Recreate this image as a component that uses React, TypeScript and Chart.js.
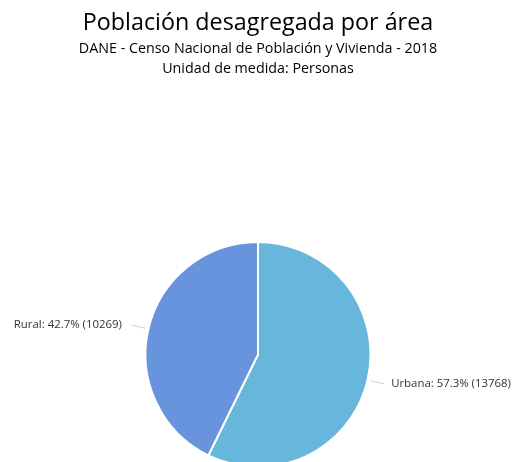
import React, { useEffect, useRef } from "react";
import { Chart, registerables } from "chart.js";

Chart.register(...registerables);

const categories: string[] = ["Urbana", "Rural"];
const values: number[] = [13768, 10269];
const colors: string[] = ["#67b7dc", "#6794dc"];
const titleText = "Población desagregada por área";
const subtitleLines: string[] = [
  "DANE - Censo Nacional de Población y Vivienda - 2018",
  "Unidad de medida: Personas",
];

const FONT = "'Open Sans', 'Noto Sans', sans-serif";

const sliceLabels = {
  id: "sliceLabels",
  afterDatasetsDraw(chart: any) {
    const ctx = chart.ctx as CanvasRenderingContext2D;
    const meta = chart.getDatasetMeta(0);
    const total = values.reduce((a, b) => a + b, 0);
    ctx.save();
    meta.data.forEach((arc: any, i: number) => {
      const { x, y, startAngle, endAngle, outerRadius } = arc.getProps(
        ["x", "y", "startAngle", "endAngle", "outerRadius"],
        true
      );
      const mid = (startAngle + endAngle) / 2;
      const c = Math.cos(mid);
      const s = Math.sin(mid);
      const x1 = x + c * (outerRadius + 3);
      const y1 = y + s * (outerRadius + 3);
      const x2 = x + c * (outerRadius + 17);
      const y2 = y + s * (outerRadius + 17);
      ctx.strokeStyle = "#cfcfcf";
      ctx.lineWidth = 1;
      ctx.beginPath();
      ctx.moveTo(x1, y1);
      ctx.lineTo(x2, y2);
      ctx.stroke();
      const right = c >= 0;
      ctx.font = `11.4px ${FONT}`;
      ctx.fillStyle = "#333333";
      ctx.textAlign = right ? "left" : "right";
      ctx.textBaseline = "middle";
      const pct = ((values[i] / total) * 100).toFixed(1);
      ctx.fillText(
        `${categories[i]}: ${pct}% (${values[i]})`,
        x2 + (right ? 7 : -10),
        y2
      );
    });
    ctx.restore();
  },
};

export default function App() {
  const canvasRef = useRef<HTMLCanvasElement | null>(null);

  useEffect(() => {
    if (!canvasRef.current) return;
    const chart = new Chart(canvasRef.current, {
      type: "pie",
      data: {
        labels: categories,
        datasets: [
          {
            data: values,
            backgroundColor: colors,
            borderColor: "#ffffff",
            borderWidth: 2,
            hoverOffset: 0,
          },
        ],
      },
      options: {
        responsive: false,
        animation: false,
        layout: { padding: { left: 4, right: 0, top: 0, bottom: 0 } },
        plugins: {
          legend: { display: false },
          tooltip: { enabled: false },
          title: {
            display: true,
            text: titleText,
            color: "#000000",
            font: { family: FONT, size: 23.3, weight: "normal", lineHeight: 1.2 },
            padding: { top: 9, bottom: 2 },
          },
          subtitle: {
            display: true,
            text: subtitleLines,
            color: "#000000",
            font: { family: FONT, size: 14.3, weight: "normal", lineHeight: "20px" },
            padding: { top: 0, bottom: 162 },
          },
        },
      },
      plugins: [sliceLabels],
    });
    return () => chart.destroy();
  }, []);

  return (
    <div
      style={{
        position: "fixed",
        left: 0,
        top: 0,
        width: 512,
        height: 462,
        overflow: "hidden",
        background: "#ffffff",
      }}
    >
      <canvas
        ref={canvasRef}
        width={512}
        height={468}
        style={{ display: "block", width: 512, height: 468 }}
      />
    </div>
  );
}
